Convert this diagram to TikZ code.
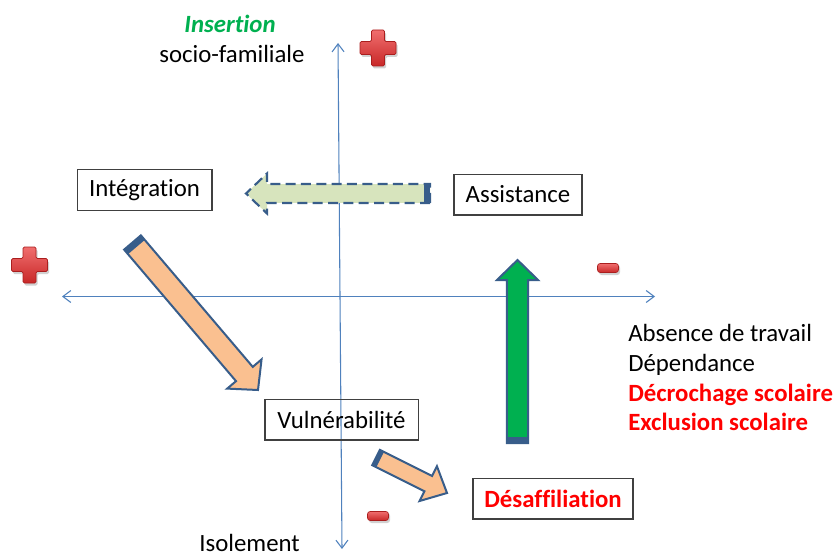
\documentclass[tikz,border=0pt]{standalone}
\usepackage{fontspec}
\setmainfont{Carlito}[Ligatures={NoCommon}]
\usetikzlibrary{calc,arrows.meta}
\definecolor{axisblue}{RGB}{79,129,189}
\definecolor{outlineblue}{RGB}{56,93,138}
\definecolor{orangefill}{RGB}{250,192,144}
\definecolor{greenfill}{RGB}{0,176,80}
\definecolor{lightgreen}{RGB}{215,228,189}
\definecolor{boxline}{RGB}{64,64,64}
\definecolor{txtgreen}{RGB}{0,176,80}
\definecolor{txtred}{RGB}{255,0,0}
\definecolor{signlight}{RGB}{240,110,110}
\definecolor{signdark}{RGB}{200,40,40}
\definecolor{signedge}{RGB}{170,30,30}
% #1 tail, #2 tip, #3 half shaft width, #4 half head width, #5 head length, #6 style, #7 cap length
\newcommand\blockarrow[7]{%
  \coordinate (ba-b) at ($(#2)!#5!(#1)$);
  \coordinate (ba-c) at ($(#1)!#7!(#2)$);
  \path[#6] ($(#1)!#3!90:(#2)$) -- ($(ba-b)!#3!90:(#2)$) -- ($(ba-b)!#4!90:(#2)$) -- (#2)
     -- ($(ba-b)!#4!-90:(#2)$) -- ($(ba-b)!#3!-90:(#2)$) -- ($(#1)!#3!-90:(#2)$) -- cycle;
  \fill[outlineblue] ($(#1)!#3!90:(#2)$) -- ($(ba-c)!#3!90:(#2)$) -- ($(ba-c)!#3!-90:(#2)$) -- ($(#1)!#3!-90:(#2)$) -- cycle;
}
\newcommand\plussign[1]{%
  \begin{scope}[shift={(#1)}]
    \fill[black, opacity=0.18, shift={(1.5,2.5)}, rounded corners=1pt]
      (-6.5,-18) -- (6.5,-18) -- (6.5,-6.5) -- (18,-6.5) -- (18,6.5) -- (6.5,6.5) -- (6.5,18) -- (-6.5,18) -- (-6.5,6.5) -- (-18,6.5) -- (-18,-6.5) -- (-6.5,-6.5) -- cycle;
    \draw[signedge, line width=0.5pt, top color=signlight, bottom color=signdark, rounded corners=1pt]
      (-6.5,-18) -- (6.5,-18) -- (6.5,-6.5) -- (18,-6.5) -- (18,6.5) -- (6.5,6.5) -- (6.5,18) -- (-6.5,18) -- (-6.5,6.5) -- (-18,6.5) -- (-18,-6.5) -- (-6.5,-6.5) -- cycle;
  \end{scope}}
\newcommand\minussign[1]{%
  \begin{scope}[shift={(#1)}]
    \fill[black, opacity=0.18, rounded corners=2pt] (-9,-3) rectangle (12,7);
    \draw[signedge, line width=0.5pt, top color=signlight, bottom color=signdark, rounded corners=2pt] (-10.5,-4.5) rectangle (10.5,4.5);
  \end{scope}}
\begin{document}
\begin{tikzpicture}[x=0.75pt,y=-0.75pt,
  txt/.style={font=\fontsize{18.6pt}{23pt}\selectfont, inner sep=0pt},
  box/.style={txt, draw=boxline, line width=1pt, minimum height=30.5pt, inner xsep=6pt},
  axis/.style={draw=axisblue, line width=0.8pt, {Straight Barb[length=6pt,width=9pt]}-{Straight Barb[length=6pt,width=9pt]}},
  orangearrow/.style={fill=orangefill, draw=outlineblue, line width=1.5pt},
  greenarrow/.style={fill=greenfill, draw=outlineblue, line width=1.5pt},
  dasharrow/.style={fill=lightgreen, draw=outlineblue, line width=1.6pt, dash pattern=on 7.5pt off 4pt}]
\useasboundingbox (0,0) rectangle (838,556);

% axes
\coordinate (axL) at (62,296.5);
\coordinate (axR) at (655,296.5);
\coordinate (axT) at (338,43);
\coordinate (axB) at (342,549);
\draw[axis] (axL) -- (axR);
\draw[axis] (axB) -- (axT);

% boxes
\node[box, minimum width=101pt] (integ) at (144.5,190) {Intégration};
\node[box, minimum width=96pt] (assist) at (518,194.5) {Assistance};
\node[box, minimum width=115pt] (vuln) at (341.5,419.5) {Vulnérabilité};
\node[box, minimum width=120pt, text=txtred, font=\fontsize{18.6pt}{23pt}\selectfont\bfseries] (desaf) at (553,498.5) {Désaffiliation};

% free texts
\node[txt, anchor=base, text=txtgreen, font=\fontsize{18.6pt}{23pt}\selectfont\bfseries\itshape] (insert) at (230,33) {Insertion};
\node[txt, anchor=base] (socio) at (232,63) {socio-familiale};
\node[txt, anchor=base east] (isol) at (300,551) {Isolement};
\node[txt, anchor=base west] (absence) at (628,341) {Absence de travail};
\node[txt, anchor=base west] (depend) at (628,371) {Dépendance};
\node[txt, anchor=base west, text=txtred, font=\fontsize{18.6pt}{23pt}\selectfont\bfseries] (decroch) at (628,401) {Décrochage scolaire};
\node[txt, anchor=base west, text=txtred, font=\fontsize{18.6pt}{23pt}\selectfont\bfseries] (exclu) at (628,430) {Exclusion scolaire};

% signs
\plussign{378,48}
\plussign{29.5,265}
\minussign{608,268}
\minussign{378,516}

% block arrows
\coordinate (t1) at (132.5,242.5); \coordinate (p1) at (258,390);
\coordinate (t2) at (376,457.5);   \coordinate (p2) at (447,493);
\coordinate (t3) at (517.5,443);   \coordinate (p3) at (517.5,260);
\coordinate (t4) at (430,193.5);   \coordinate (p4) at (246,193.5);
\blockarrow{t1}{p1}{8.25pt}{16.9pt}{15.75pt}{orangearrow}{4.5pt}
\blockarrow{t2}{p2}{6.4pt}{14.6pt}{15.75pt}{orangearrow}{3.5pt}
\blockarrow{t3}{p3}{7.9pt}{15.4pt}{15pt}{greenarrow}{4.5pt}
\blockarrow{t4}{p4}{7.1pt}{15pt}{15.75pt}{dasharrow}{4.5pt}
\end{tikzpicture}
\end{document}
